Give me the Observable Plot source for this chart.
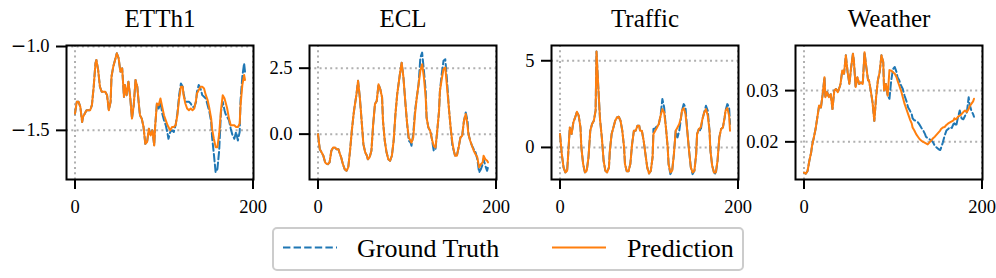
<!DOCTYPE html>
<html><head><meta charset="utf-8">
<script src="https://cdn.jsdelivr.net/npm/d3@7"></script>
<script src="https://cdn.jsdelivr.net/npm/@observablehq/plot@0.6"></script>
<style>
body{margin:0;background:#fff;}
#root{position:relative;width:996px;height:278px;overflow:hidden;background:#fff;font-family:"Liberation Serif","Times New Roman",serif;}
#root svg{position:absolute;top:0;}
#root svg text{font-family:"Liberation Serif","Times New Roman",serif;}
#legend{position:absolute;left:272px;top:227px;width:472px;height:44px;box-sizing:border-box;border:2px solid #cccccc;border-radius:5px;background:#fff;}
</style></head><body><div id="root"><div id="legend"></div></div>
<script>
// time steps at which values were read
const T = [0,2,4,6,8,9,11,13,15,17,19,21,23,24,26,28,30,32,34,36,38,40,41,43,45,47,49,51,53,55,56,58,60,62,64,66,68,70,72,73,75,77,79,81,83,85,87,89,90,92,94,96,98,100,102,104,105,107,109,111,113,115,117,119,121,122,124,126,128,130,132,134,136,137,139,141,143,145,147,149,151,153,154,156,158,160,162,164,166,168,169,171,173,175,177,179,181,183,185,186,188,190,191];

const titles = ["ETTh1", "ECL", "Traffic", "Weather"];
const seriesNames = ["Ground Truth", "Prediction"];
const xTicks = [0, 200];

const etthPred = [-1.40,-1.33,-1.33,-1.36,-1.45,-1.42,-1.40,-1.38,-1.38,-1.38,
 -1.35,-1.24,-1.10,-1.08,-1.14,-1.24,-1.27,-1.27,-1.27,-1.29,
 -1.38,-1.33,-1.18,-1.12,-1.08,-1.04,-1.07,-1.15,-1.13,-1.30,
 -1.23,-1.29,-1.21,-1.30,-1.43,-1.35,-1.20,-1.24,-1.36,-1.41,
 -1.43,-1.48,-1.58,-1.57,-1.49,-1.53,-1.50,-1.59,-1.48,-1.34,
 -1.35,-1.31,-1.36,-1.41,-1.44,-1.47,-1.48,-1.50,-1.48,-1.48,
 -1.47,-1.41,-1.31,-1.24,-1.24,-1.29,-1.34,-1.37,-1.38,-1.37,
 -1.38,-1.37,-1.32,-1.28,-1.26,-1.24,-1.24,-1.25,-1.29,-1.32,
 -1.37,-1.43,-1.49,-1.55,-1.60,-1.60,-1.52,-1.38,-1.29,-1.31,
 -1.33,-1.37,-1.43,-1.47,-1.47,-1.47,-1.48,-1.48,-1.46,-1.35,
 -1.23,-1.17,-1.20];
const etthGT = [-1.40,-1.33,-1.33,-1.36,-1.45,-1.42,-1.40,-1.38,-1.38,-1.38,
 -1.35,-1.24,-1.10,-1.08,-1.14,-1.24,-1.27,-1.27,-1.27,-1.29,
 -1.38,-1.33,-1.18,-1.12,-1.08,-1.04,-1.07,-1.15,-1.13,-1.30,
 -1.23,-1.29,-1.21,-1.30,-1.43,-1.35,-1.20,-1.24,-1.36,-1.41,
 -1.43,-1.48,-1.58,-1.57,-1.49,-1.53,-1.50,-1.59,-1.48,-1.34,
 -1.37,-1.33,-1.40,-1.44,-1.47,-1.52,-1.55,-1.51,-1.50,-1.51,
 -1.47,-1.40,-1.29,-1.22,-1.24,-1.28,-1.33,-1.33,-1.33,-1.34,
 -1.36,-1.36,-1.33,-1.27,-1.23,-1.25,-1.29,-1.30,-1.31,-1.35,
 -1.39,-1.45,-1.54,-1.64,-1.75,-1.73,-1.62,-1.39,-1.33,-1.38,
 -1.40,-1.42,-1.44,-1.49,-1.53,-1.55,-1.51,-1.56,-1.51,-1.32,
 -1.18,-1.10,-1.15];

const eclPred = [0.00,-0.57,-0.69,-0.82,-1.07,-1.11,-1.14,-1.07,-0.63,-0.51,
 -0.51,-0.57,-0.57,-0.69,-0.88,-1.14,-1.33,-1.39,-1.26,-0.63,
 0.13,0.76,1.01,1.45,2.02,1.39,0.51,-0.38,-0.69,-0.82,
 -0.95,-0.88,-0.63,0.38,1.14,1.26,1.89,1.70,1.39,0.51,
 -0.25,-0.69,-0.95,-1.01,-0.82,-0.25,0.76,1.52,1.77,2.27,
 2.71,2.15,1.26,0.44,-0.13,-0.25,-0.32,-0.13,0.76,1.39,
 1.89,2.40,2.65,2.15,1.39,0.63,0.25,0.13,-0.19,-0.44,
 -0.51,0.13,0.88,1.64,2.08,2.46,2.53,1.77,1.01,0.25,
 -0.32,-0.69,-0.82,-0.82,-0.51,-0.13,-0.06,0.51,0.76,0.32,
 0.00,-0.25,-0.44,-0.63,-0.76,-0.88,-1.26,-1.14,-1.07,-0.82,
 -0.95,-1.01,-1.07];
const eclGT = [0.00,-0.57,-0.69,-0.82,-1.07,-1.11,-1.14,-1.07,-0.63,-0.51,
 -0.51,-0.57,-0.57,-0.69,-0.88,-1.14,-1.33,-1.39,-1.26,-0.63,
 0.13,0.76,1.01,1.45,2.02,1.39,0.51,-0.38,-0.69,-0.82,
 -0.95,-0.88,-0.63,0.38,1.14,1.26,1.89,1.70,1.39,0.51,
 -0.25,-0.69,-0.95,-1.01,-0.82,-0.25,0.76,1.52,1.77,2.27,
 2.71,2.15,1.26,0.44,-0.25,-0.32,-0.44,0.00,0.88,1.39,
 1.89,2.90,3.09,2.40,1.64,0.63,0.25,0.13,-0.19,-0.63,
 -0.57,0.13,0.88,1.64,2.27,2.78,2.84,2.02,1.01,0.25,
 -0.44,-0.69,-0.82,-0.82,-0.51,-0.13,-0.06,0.51,0.82,0.51,
 0.00,-0.25,-0.44,-0.57,-0.69,-0.95,-1.45,-1.33,-1.14,-0.95,
 -1.20,-1.39,-1.26];

const trafficPred = [0.77,-0.38,-1.15,-1.44,-1.35,-0.58,1.15,0.77,1.44,1.73,
 2.06,1.83,1.15,0.00,-0.96,-1.44,-1.35,-0.58,0.96,1.35,
 1.54,2.12,5.54,3.50,1.60,0.58,-0.77,-1.35,-1.44,-1.15,
 -0.19,0.77,1.15,1.54,1.73,1.77,1.54,0.96,0.00,-0.96,
 -1.38,-1.38,-0.96,0.19,0.96,0.96,1.25,1.25,0.96,0.96,
 0.38,-0.38,-1.15,-1.50,-1.35,-0.58,0.77,0.96,1.15,1.35,
 1.83,2.21,2.02,1.15,0.00,-0.96,-1.44,-1.35,-0.38,0.96,
 1.15,1.35,1.73,2.12,2.27,1.92,0.96,-0.19,-1.15,-1.44,
 -1.35,-0.38,0.77,1.06,1.15,1.63,2.02,2.21,1.83,0.96,
 -0.19,-1.06,-1.44,-1.44,-0.77,0.58,1.06,1.15,1.73,2.12,
 2.27,1.83,0.96];
const trafficGT = [0.77,-0.38,-1.15,-1.44,-1.35,-0.58,1.15,0.77,1.44,1.73,
 2.06,1.83,1.15,0.00,-0.96,-1.44,-1.35,-0.58,0.96,1.35,
 1.54,2.12,5.54,3.50,1.60,0.58,-0.77,-1.35,-1.44,-1.15,
 -0.19,0.77,1.15,1.54,1.73,1.77,1.54,0.96,0.00,-0.96,
 -1.38,-1.38,-0.96,0.19,0.96,0.96,1.25,1.25,0.96,0.96,
 0.38,-0.38,-1.15,-1.50,-1.35,-0.58,1.06,1.10,1.25,1.35,
 1.83,2.79,2.31,1.15,0.00,-0.96,-1.54,-1.35,-0.38,0.96,
 0.58,0.96,1.73,2.12,2.50,2.31,0.96,-0.19,-1.15,-1.54,
 -1.35,-0.38,0.77,1.06,0.96,1.63,2.02,2.40,2.12,0.96,
 -0.19,-1.06,-1.44,-1.54,-0.77,0.58,1.06,1.15,1.73,2.12,
 2.50,2.31,1.35];

const weatherPred = [0.0140,0.0138,0.0143,0.0163,0.0179,0.0192,0.0208,0.0225,0.0248,0.0271,
 0.0267,0.0293,0.0326,0.0287,0.0297,0.0287,0.0293,0.0264,0.0300,0.0303,
 0.0297,0.0307,0.0313,0.0339,0.0333,0.0369,0.0336,0.0313,0.0346,0.0372,
 0.0359,0.0307,0.0326,0.0313,0.0316,0.0313,0.0375,0.0346,0.0320,0.0320,
 0.0300,0.0277,0.0241,0.0287,0.0320,0.0336,0.0369,0.0356,0.0300,0.0313,
 0.0290,0.0340,0.0339,0.0336,0.0333,0.0326,0.0320,0.0310,0.0300,0.0287,
 0.0274,0.0264,0.0254,0.0244,0.0236,0.0228,0.0222,0.0215,0.0210,0.0205,
 0.0202,0.0200,0.0198,0.0197,0.0195,0.0199,0.0203,0.0207,0.0210,0.0214,
 0.0218,0.0222,0.0225,0.0228,0.0229,0.0233,0.0236,0.0238,0.0240,0.0242,
 0.0246,0.0244,0.0249,0.0251,0.0254,0.0258,0.0261,0.0258,0.0264,0.0269,
 0.0274,0.0279,0.0284];
const weatherGT = [0.0140,0.0138,0.0143,0.0163,0.0179,0.0192,0.0208,0.0225,0.0248,0.0271,
 0.0267,0.0293,0.0326,0.0287,0.0297,0.0287,0.0293,0.0264,0.0300,0.0303,
 0.0297,0.0307,0.0313,0.0339,0.0333,0.0369,0.0336,0.0313,0.0346,0.0372,
 0.0359,0.0307,0.0326,0.0313,0.0316,0.0313,0.0375,0.0346,0.0320,0.0320,
 0.0300,0.0277,0.0241,0.0287,0.0320,0.0336,0.0369,0.0356,0.0300,0.0313,
 0.0290,0.0284,0.0320,0.0342,0.0346,0.0336,0.0326,0.0320,0.0310,0.0303,
 0.0290,0.0280,0.0267,0.0261,0.0254,0.0246,0.0242,0.0241,0.0238,0.0233,
 0.0227,0.0222,0.0215,0.0210,0.0207,0.0205,0.0203,0.0199,0.0192,0.0189,
 0.0186,0.0184,0.0188,0.0199,0.0212,0.0222,0.0225,0.0229,0.0227,0.0235,
 0.0236,0.0231,0.0248,0.0261,0.0246,0.0244,0.0251,0.0258,0.0287,0.0274,
 0.0261,0.0254,0.0249];

const yTicks = [[-1.5, -1.0], [0, 2.5], [0, 5], [0.02, 0.03]];
const yFormats = [".1f", ".1f", "d", ".2f"];
const gtSeries = [etthGT, eclGT, trafficGT, weatherGT];
const predSeries = [etthPred, eclPred, trafficPred, weatherPred];

// layout
const yDomains = [[-1.793, -0.994], [-1.72, 3.36], [-1.85, 5.88], [0.01265, 0.0388]];
const boxLefts = [66, 309, 551, 795];
const boxW = 187, mL = 70, mR = 20;
const blue = "#1f77b4", orange = "#ff7f0e";
const serif = "'Liberation Serif', 'Times New Roman', serif";
const gridStyle = {stroke: "#b0b0b0", strokeOpacity: 1, strokeWidth: 2, strokeDasharray: "2,3.3"};

const root = document.getElementById("root");
titles.forEach((title, p) => {
  const gt = T.map((t, i) => ({t, v: gtSeries[p][i]}));
  const pr = T.map((t, i) => ({t, v: predSeries[p][i]}));
  const svg = Plot.plot({
    width: mL + boxW + mR, height: 230,
    marginLeft: mL, marginRight: mR, marginTop: 45, marginBottom: 51,
    x: {domain: [-9.55, 200.55]},
    y: {domain: yDomains[p]},
    style: {background: "transparent", overflow: "visible", fontFamily: serif, fontSize: "18.5px", color: "black"},
    marks: [
      Plot.gridX(xTicks, gridStyle),
      Plot.gridY(yTicks[p], gridStyle),
      Plot.line(gt, {x: "t", y: "v", stroke: blue, strokeWidth: 2, strokeDasharray: "7.4,3.2"}),
      Plot.line(pr, {x: "t", y: "v", stroke: orange, strokeWidth: 2}),
      Plot.frame({stroke: "black", strokeWidth: 2}),
      Plot.axisX(xTicks, {tickSize: 10, tickPadding: 10, strokeWidth: 2, label: null, fontFamily: serif}),
      Plot.axisY(yTicks[p], {tickSize: 10, tickPadding: 7, strokeWidth: 2, tickFormat: d3.format(yFormats[p]), label: null, fontFamily: serif}),
      Plot.text([title], {frameAnchor: "top", lineAnchor: "middle", dy: -27, fontSize: 25, text: d => d, fill: "black", fontFamily: serif})
    ]
  });
  svg.style.left = (boxLefts[p] - mL) + "px";
  d3.select(svg).attr("font-family", serif);
  d3.select(svg).selectAll("text").style("font-family", serif).style("font-variant", "normal");
  // wide minus sign as in the reference
  d3.select(svg).selectAll("text").each(function() {
    const s = this.textContent;
    if (s.startsWith("\u2212")) {
      this.textContent = "";
      d3.select(this).append("tspan").style("font-family", "'DejaVu Sans'").text("\u2212");
      d3.select(this).append("tspan").text(s.slice(1));
    }
  });
  root.appendChild(svg);
});

// legend
const leg = d3.select(root).append("svg").attr("width", 996).attr("height", 278).style("left", "0px").style("pointer-events", "none");
leg.append("line").attr("x1", 283).attr("x2", 337).attr("y1", 247.5).attr("y2", 247.5)
  .attr("stroke", blue).attr("stroke-width", 2).attr("stroke-dasharray", "7.4,3.2");
leg.append("text").attr("x", 357).attr("y", 256.5).attr("font-size", 26).style("font-family", serif).text(seriesNames[0]);
leg.append("line").attr("x1", 552).attr("x2", 606).attr("y1", 247.5).attr("y2", 247.5)
  .attr("stroke", orange).attr("stroke-width", 2);
leg.append("text").attr("x", 627).attr("y", 256.5).attr("font-size", 26).style("font-family", serif).text(seriesNames[1]);
</script></body></html>
